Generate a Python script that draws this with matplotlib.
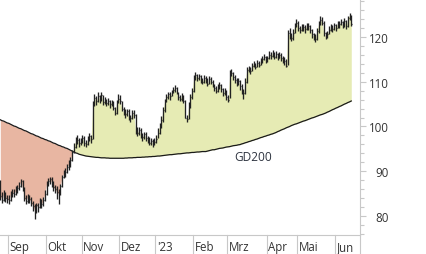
import matplotlib
matplotlib.use("Agg")
import matplotlib.pyplot as plt
import numpy as np
from matplotlib.ticker import MultipleLocator, FixedLocator

plt.rcParams['font.family'] = ['Open Sans', 'DejaVu Sans']

# trading days per month (Aug tail ... Jun start)
month_days = [5, 22, 21, 22, 21, 22, 20, 23, 18, 22, 10]
month_labels = ["Sep", "Okt", "Nov", "Dez", "'23", "Feb", "Mrz", "Apr", "Mai", "Jun"]

close = [
    84.5, 83.6, 85.0, 84.0, 83.8, 83.5, 84.8, 85.2, 85.0, 85.7,
    86.2, 86.8, 87.8, 86.2, 84.0, 83.4, 84.3, 83.8, 83.0, 82.3,
    81.4, 82.4, 82.0, 83.4, 82.6, 83.6, 85.0, 87.2, 87.8, 88.2,
    87.4, 86.4, 86.0, 85.3, 85.0, 86.6, 88.6, 89.6, 89.8, 90.9,
    91.6, 92.4, 94.2, 95.5, 96.8, 97.0, 96.2, 96.6, 97.4, 96.4,
    96.0, 97.0, 97.8, 97.2, 105.0, 106.3, 105.6, 106.8, 106.0, 107.0,
    105.4, 105.8, 105.2, 105.6, 105.0, 105.4, 104.2, 103.0, 105.5, 106.2,
    105.6, 104.0, 103.2, 102.8, 103.4, 102.0, 101.8, 103.0, 102.6, 99.0,
    98.6, 99.2, 98.0, 97.6, 98.4, 97.4, 97.0, 96.4, 96.8, 96.2,
    96.6, 97.2, 98.6, 100.0, 101.4, 103.6, 105.6, 106.6, 107.2, 106.8,
    107.6, 108.2, 108.6, 107.6, 106.6, 106.2, 106.8, 105.8, 102.0, 101.6,
    104.6, 106.6, 108.0, 110.8, 111.4, 110.8, 111.2, 110.4, 110.0, 110.8,
    110.4, 109.6, 110.6, 110.0, 109.4, 108.6, 108.0, 108.8, 109.2, 108.4,
    107.4, 107.8, 106.6, 106.0, 111.6, 112.0, 111.0, 110.4, 109.8, 110.2,
    109.0, 108.0, 107.4, 110.0, 112.6, 113.0, 112.4, 113.6, 114.0, 113.4,
    114.2, 113.8, 114.6, 115.0, 115.6, 114.8, 115.2, 116.0, 115.8, 116.4,
    115.6, 116.2, 115.4, 116.0, 115.4, 115.0, 114.6, 113.6, 120.8, 120.4,
    119.8, 121.0, 122.6, 123.2, 122.0, 121.6, 122.4, 122.2, 121.8, 122.6,
    122.4, 121.6, 120.6, 120.2, 119.6, 121.4, 123.0, 123.8, 123.2, 120.8,
    120.2, 120.6, 121.6, 122.2, 121.8, 122.6, 122.0, 123.0, 122.8, 123.4,
    122.6, 123.6, 122.4, 124.2, 124.8, 123.0,
]

high = [
    88.0, 85.4, 85.8, 85.4, 84.8, 84.6, 85.6, 86.0, 86.0, 86.6,
    87.0, 87.6, 88.2, 88.0, 86.4, 84.6, 85.0, 84.8, 84.2, 83.4,
    82.6, 83.0, 83.0, 84.0, 83.8, 84.2, 85.8, 87.8, 88.4, 88.6,
    88.6, 87.8, 87.0, 86.6, 86.0, 87.2, 89.2, 90.2, 90.8, 91.6,
    92.4, 93.2, 94.8, 96.2, 97.6, 98.0, 97.4, 97.4, 98.2, 97.8,
    97.0, 97.8, 98.6, 98.2, 105.6, 107.2, 106.8, 107.6, 107.0, 107.8,
    107.0, 106.6, 106.2, 106.4, 106.0, 106.0, 105.6, 104.4, 106.0, 107.2,
    107.0, 105.8, 104.4, 103.8, 104.0, 103.8, 102.6, 103.6, 103.6, 102.8,
    99.8, 99.8, 99.6, 98.6, 98.8, 98.8, 97.8, 97.6, 97.4, 97.2,
    97.4, 98.0, 99.6, 100.8, 102.4, 104.4, 106.2, 107.2, 107.8, 107.6,
    108.2, 108.8, 109.2, 108.8, 107.8, 107.0, 107.4, 107.0, 106.0, 102.6,
    105.4, 107.2, 108.6, 111.6, 112.2, 111.8, 111.8, 111.6, 110.8, 111.4,
    111.2, 110.8, 111.2, 111.0, 110.4, 109.6, 109.0, 109.4, 110.0, 109.4,
    108.6, 108.6, 108.2, 107.0, 112.6, 112.8, 112.2, 111.4, 110.8, 110.8,
    110.4, 109.4, 108.4, 110.8, 113.2, 113.6, 113.4, 114.2, 114.6, 114.2,
    114.8, 114.6, 115.2, 115.8, 116.2, 115.8, 115.8, 116.8, 116.6, 117.0,
    116.6, 116.8, 116.4, 116.6, 116.4, 115.8, 115.6, 115.0, 121.6, 122.0,
    120.8, 121.8, 123.2, 124.0, 123.6, 122.4, 123.0, 122.8, 122.6, 123.2,
    123.2, 122.6, 121.8, 121.0, 120.6, 122.0, 123.6, 124.8, 124.4, 123.6,
    121.2, 121.4, 122.4, 122.8, 122.6, 123.2, 123.0, 123.6, 123.6, 124.0,
    123.6, 124.2, 123.8, 124.8, 125.3, 125.0,
]

low = [
    83.6, 82.8, 83.4, 83.2, 83.0, 82.6, 83.4, 84.2, 84.2, 84.6,
    85.2, 85.8, 86.4, 85.6, 83.4, 82.6, 83.0, 83.0, 82.2, 81.2,
    79.4, 80.6, 81.0, 81.8, 81.8, 82.2, 83.4, 84.8, 86.8, 87.2,
    86.4, 85.6, 85.2, 83.8, 82.6, 84.8, 86.4, 88.4, 88.8, 89.6,
    90.2, 91.0, 92.2, 94.0, 95.2, 96.0, 95.4, 95.8, 96.4, 95.6,
    95.4, 95.8, 96.8, 96.4, 97.2, 104.6, 104.8, 105.4, 105.2, 105.8,
    104.8, 105.0, 104.6, 104.8, 104.2, 104.6, 103.6, 102.6, 102.8, 105.2,
    105.0, 103.4, 102.6, 102.0, 102.4, 101.4, 101.0, 101.6, 102.0, 98.4,
    97.8, 98.2, 97.4, 96.8, 97.2, 96.8, 96.2, 95.8, 95.8, 95.4,
    95.8, 96.2, 97.4, 98.4, 99.6, 101.0, 103.2, 105.4, 106.2, 106.0,
    106.8, 107.4, 107.8, 107.2, 106.0, 105.6, 105.8, 105.2, 101.8, 101.0,
    101.6, 104.2, 106.2, 107.8, 110.4, 110.2, 110.4, 109.8, 109.4, 109.8,
    109.8, 109.0, 109.4, 109.4, 108.8, 108.0, 107.4, 107.8, 108.4, 107.8,
    106.8, 107.0, 106.0, 105.4, 106.4, 111.2, 110.4, 109.8, 109.0, 109.2,
    108.2, 107.2, 106.1, 107.2, 109.8, 112.2, 111.8, 112.4, 113.2, 112.8,
    113.2, 113.2, 113.8, 114.2, 114.8, 114.2, 114.4, 115.0, 115.0, 115.6,
    115.0, 115.2, 114.8, 115.2, 114.6, 114.2, 113.8, 113.2, 113.8, 119.6,
    119.2, 119.4, 120.8, 122.2, 121.4, 120.8, 121.4, 121.4, 121.0, 121.6,
    121.6, 121.0, 119.8, 119.4, 118.8, 119.4, 121.0, 122.6, 122.6, 120.2,
    119.6, 119.8, 120.6, 121.4, 121.2, 121.6, 121.4, 122.0, 122.0, 122.6,
    122.0, 122.2, 121.8, 122.2, 123.8, 122.4,
]

gd200 = [
    101.5, 101.3, 101.2, 101.0, 100.8, 100.7, 100.5, 100.3, 100.1, 100.0,
    99.8, 99.6, 99.5, 99.3, 99.1, 99.0, 98.8, 98.6, 98.4, 98.3,
    98.1, 97.9, 97.8, 97.6, 97.4, 97.3, 97.1, 97.0, 96.8, 96.7,
    96.5, 96.3, 96.2, 96.0, 95.8, 95.7, 95.5, 95.4, 95.2, 95.1,
    94.9, 94.7, 94.5, 94.3, 94.1, 94.0, 93.8, 93.7, 93.6, 93.5,
    93.4, 93.35, 93.3, 93.25, 93.2, 93.15, 93.1, 93.1, 93.05, 93.0,
    93.0, 93.0, 92.95, 92.95, 92.9, 92.9, 92.9, 92.9, 92.9, 92.9,
    92.9, 92.9, 92.9, 92.95, 92.95, 93.0, 93.0, 93.0, 93.05, 93.05,
    93.1, 93.1, 93.1, 93.15, 93.15, 93.2, 93.2, 93.25, 93.25, 93.3,
    93.3, 93.35, 93.4, 93.4, 93.45, 93.5, 93.55, 93.6, 93.65, 93.7,
    93.7, 93.75, 93.8, 93.85, 93.9, 93.9, 93.95, 94.0, 94.05, 94.1,
    94.1, 94.15, 94.2, 94.2, 94.25, 94.3, 94.3, 94.35, 94.4, 94.4,
    94.4, 94.5, 94.6, 94.7, 94.8, 94.8, 94.9, 95.0, 95.1, 95.15,
    95.2, 95.3, 95.4, 95.45, 95.5, 95.6, 95.7, 95.75, 95.8, 95.9,
    95.95, 96.1, 96.2, 96.35, 96.45, 96.6, 96.7, 96.85, 96.95, 97.1,
    97.2, 97.35, 97.5, 97.6, 97.75, 97.85, 98.0, 98.1, 98.25, 98.35,
    98.5, 98.65, 98.85, 99.0, 99.2, 99.35, 99.5, 99.7, 99.85, 100.0,
    100.2, 100.35, 100.5, 100.6, 100.75, 100.9, 101.05, 101.2, 101.3, 101.45,
    101.6, 101.75, 101.9, 102.0, 102.15, 102.3, 102.45, 102.6, 102.7, 102.85,
    103.0, 103.2, 103.35, 103.55, 103.75, 103.9, 104.1, 104.25, 104.45, 104.6,
    104.8, 105.0, 105.15, 105.35, 105.5, 105.7,
]

c = np.array(close)
h = np.array(high)
l = np.array(low)
ma = np.array(gd200)
x = np.arange(len(c))

W, H = 426, 255
fig = plt.figure(figsize=(W / 100, H / 100), dpi=100)
ax = fig.add_axes([0, 19 / H, 360 / W, 236 / H])

px_per_bar = 1.712
x0 = -0.3 / px_per_bar
ax.set_xlim(x0, x0 + 360 / px_per_bar)
ax.set_ylim(75.75, 128.49)

green = '#E6EBB4'
salmon = '#E8B6A2'
ax.fill_between(x, c, ma, where=c >= ma, interpolate=True, color=green, lw=0, zorder=1)
ax.fill_between(x, c, ma, where=c < ma, interpolate=True, color=salmon, lw=0, zorder=1)

ax.plot(x, ma, color='#1a1a1a', lw=0.9, zorder=2)

ax.vlines(x, l, h, color='#222222', lw=0.95, zorder=3)
ax.hlines(c, x, x + 0.5, color='#222222', lw=0.95, zorder=3)

ax.text(147.5, 93.4, 'GD200', ha='center', va='center', fontsize=8.6, color='#2e3440')

# axes styling
for s in ['top', 'left']:
    ax.spines[s].set_visible(False)
for s in ['bottom', 'right']:
    ax.spines[s].set_color('#c8c8c8')
    ax.spines[s].set_linewidth(0.8)

ax.set_xticks([])
ax.yaxis.tick_right()
ax.yaxis.set_major_locator(FixedLocator([80, 90, 100, 110, 120]))
ax.yaxis.set_minor_locator(MultipleLocator(2))
ax.tick_params(axis='y', which='major', length=4.3, width=0.8, color='#c8c8c8',
               pad=16.5, labelsize=8.3, labelcolor='#333333')
ax.tick_params(axis='y', which='minor', length=3.2, width=0.8, color='#c8c8c8')
ax.set_yticklabels(['80', '90', '100', '110', '120'])
plt.setp(ax.get_yticklabels(), ha='right')

# month separators and labels
bounds = np.cumsum(month_days)[:-1]
trans = ax.get_xaxis_transform()
below = -19 / 236
for b, lab in zip(bounds, month_labels):
    xb = b - 0.5
    ax.plot([xb, xb], [0, below], transform=trans, color='#c8c8c8', lw=0.8, clip_on=False)
    ax.text(xb + 0.9, -11.5 / 236, lab, transform=trans, ha='left', va='center',
            fontsize=8.3, color='#333333')
ax.plot([1, 1], [0, below], transform=ax.transAxes, color='#c8c8c8', lw=0.8, clip_on=False)

fig.savefig('out.png', dpi=100)
